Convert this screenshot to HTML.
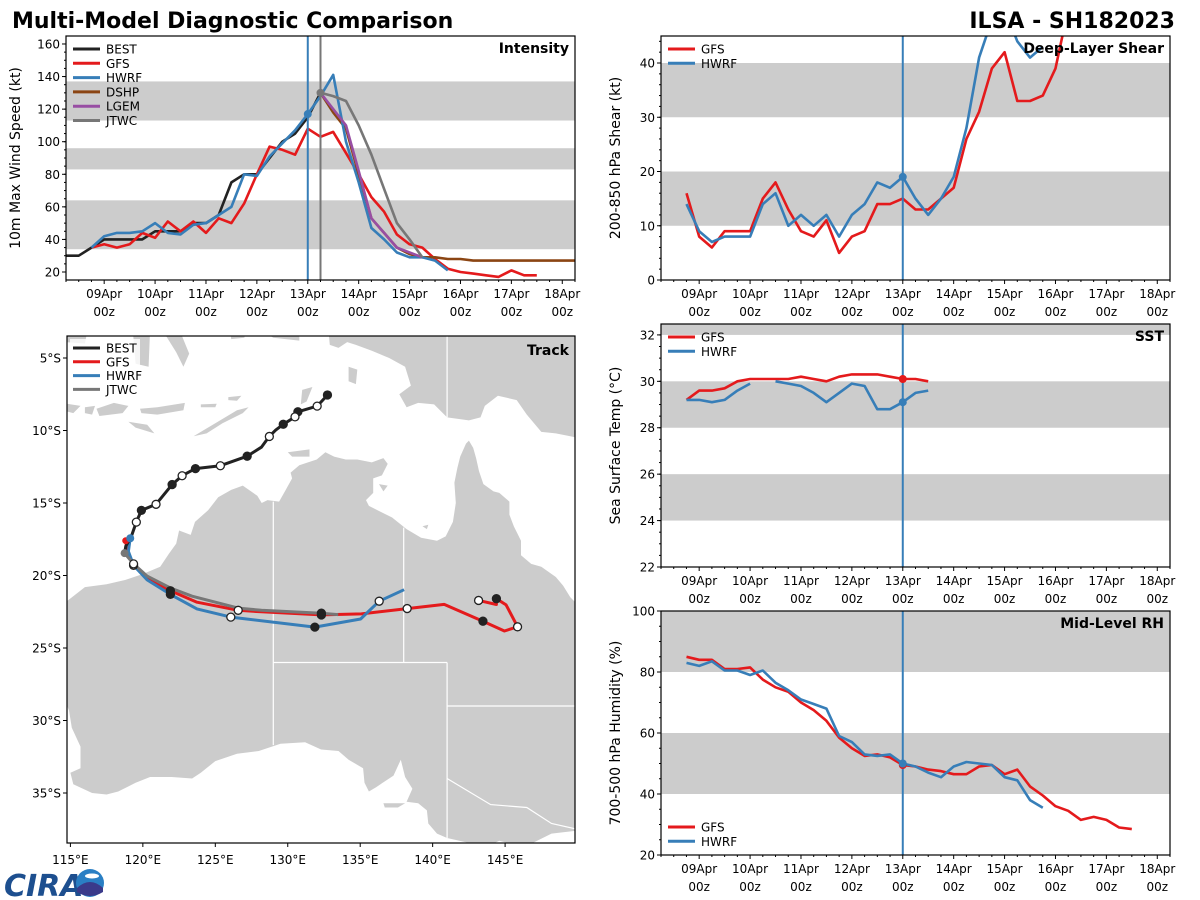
<!DOCTYPE html>
<html><head><meta charset="utf-8"><title>Multi-Model Diagnostic Comparison</title>
<style>
html,body{margin:0;padding:0;background:#fff;}
svg{display:block;font-family:"DejaVu Sans","Liberation Sans",sans-serif;}
</style></head>
<body>
<svg id="root" width="1200" height="900" viewBox="0 0 1200 900" xmlns="http://www.w3.org/2000/svg">
<text x="12" y="28" font-size="22" font-weight="bold" fill="#000">Multi-Model Diagnostic Comparison</text>
<text x="1175" y="28" font-size="22" font-weight="bold" fill="#000" text-anchor="end">ILSA - SH182023</text>
<g>
<text x="4" y="896" font-size="30" font-weight="bold" font-style="italic" fill="#1d4f8f">CIRA</text>
<circle cx="90" cy="883" r="14" fill="#2a7fc4"/>
<path d="M77 888 Q90 876 103 888 L103 892 Q90 900 77 892Z" fill="#3a3a8a"/>
<ellipse cx="92" cy="876" rx="7" ry="2.5" fill="#fff"/>
</g>
</svg>
<script>
// ---------- DATA ----------
const dayTicks = [9,10,11,12,13,14,15,16,17,18];
const dayTickLabels = ["09Apr","10Apr","11Apr","12Apr","13Apr","14Apr","15Apr","16Apr","17Apr","18Apr"];
const bestStart = 8.25;
const bestWind = [30,30,35,40,40,40,40,45,45,45,50,50,55,75,80,80,90,100,105,115,130];
const gfsWindStart = 8.75;
const gfsWind = [35,37,35,37,44,41,51,45,51,44,53,50,62,80,97,95,92,108,103,106,93,80,66,57,43,37,35,28,22,20,19,18,17,21,18,18];
const hwrfWindStart = 8.75;
const hwrfWind = [35,42,44,44,45,50,44,43,49,50,55,60,80,79,91,99,107,117,128,141,100,75,47,40,32,29,29,27,21];
const dshpStart = 13.25;
const dshpWind = [130,118,108,80,53,44,35,31,29,29,28,28,27,27,27,27,27,27,27,27,27];
const lgemStart = 13.25;
const lgemWind = [130,120,110,82,53,44,35,32,29];
const jtwcStart = 13.25;
const jtwcWind = [130,128,125,110,92,71,50,40,29];
const shearStart = 8.75;
const gfsShear = [16,8,6,9,9,9,15,18,13,9,8,11,5,8,9,14,14,15,13,13,15,17,26,31,39,42,33,33,34,39,50,56];
const hwrfShear = [14,9,7,8,8,8,14,16,10,12,10,12,8,12,14,18,17,19,15,12,15,19,28,41,48,50,44,41,43];
const sstStart = 8.75;
const gfsSst = [29.2,29.6,29.6,29.7,30.0,30.1,30.1,30.1,30.1,30.2,30.1,30.0,30.2,30.3,30.3,30.3,30.2,30.1,30.1,30.0];
const hwrfSst = [29.2,29.2,29.1,29.2,29.6,29.9,null,30.0,29.9,29.8,29.5,29.1,29.5,29.9,29.8,28.8,28.8,29.1,29.5,29.6];
const rhStart = 8.75;
const gfsRh = [85,84,84,81,81,81.5,77.5,75,73.5,70,67.5,64,58.5,55,52.5,53,52,49.5,49,48,47.5,46.5,46.5,49,49.5,46.5,48,42.5,39.5,36,34.5,31.5,32.5,31.5,29,28.5];
const hwrfRh = [83,82,83.5,80.5,80.5,79,80.5,76.5,74,71,69.5,68,59,57,53,52.5,53,50,49,47,45.5,49,50.5,50,49.5,45.5,44.5,38,35.5];
const bestTrack = [[132.74,-7.55],[132.03,-8.32],[130.7,-8.71],[130.5,-9.06],[129.69,-9.57],[129.17,-9.97],[128.73,-10.41],[128.18,-11.15],[127.2,-11.77],[125.35,-12.43],[123.63,-12.63],[122.71,-13.12],[122.02,-13.73],[120.91,-15.09],[119.9,-15.51],[119.55,-16.32],[119.19,-17.35],[118.82,-17.97],[118.74,-18.46]];
const bestMarks = [[132.74,-7.55,1],[132.03,-8.32,0],[130.7,-8.71,1],[130.5,-9.06,0],[129.69,-9.57,1],[128.73,-10.41,0],[127.2,-11.77,1],[125.35,-12.43,0],[123.63,-12.63,1],[122.71,-13.12,0],[122.02,-13.73,1],[120.91,-15.09,0],[119.9,-15.51,1],[119.55,-16.32,0]];
const gfsTrack = [[118.82,-17.6],[118.9,-18.4],[119.36,-19.2],[120.29,-20.19],[121.9,-21.05],[123.74,-21.84],[126.58,-22.4],[128.18,-22.5],[132.32,-22.72],[135.08,-22.65],[138.24,-22.28],[140.8,-21.99],[143.47,-23.15],[144.95,-23.83],[145.86,-23.54],[145.07,-22.03],[144.4,-21.6],[144.4,-22.0],[143.17,-21.72]];
const gfsMarks = [[121.9,-21.05,1],[126.58,-22.4,0],[132.32,-22.72,1],[138.24,-22.28,0],[143.47,-23.15,1],[145.86,-23.54,0],[144.4,-21.6,1],[143.17,-21.72,0]];
const hwrfTrack = [[119.13,-17.43],[119.0,-18.34],[119.36,-19.3],[120.29,-20.3],[121.9,-21.3],[123.74,-22.3],[126.07,-22.87],[131.87,-23.56],[135.03,-23.0],[136.31,-21.77],[138.03,-20.98]];
const hwrfMarks = [[119.36,-19.3,0],[121.9,-21.3,1],[126.07,-22.87,0],[131.87,-23.56,1],[136.31,-21.77,0]];
const jtwcTrack = [[118.74,-18.46],[119.36,-19.2],[120.29,-20.04],[121.9,-20.86],[123.4,-21.43],[126.58,-22.25],[128.18,-22.4],[132.32,-22.6],[133.48,-22.7]];
const jtwcMarks = [[119.36,-19.2,0],[132.32,-22.6,1]];
const australia = [[113.5,-21.8],[114.2,-21.8],[114.6,-21.9],[116,-20.8],[117.5,-20.6],[118.8,-20.3],[120,-19.9],[121.2,-19.4],[121.8,-18.5],[122.3,-17.8],[122.5,-16.9],[123.3,-17.2],[123.6,-16.3],[124.5,-15.5],[125.2,-14.6],[126.1,-14.1],[126.9,-13.8],[127.9,-14.5],[128.2,-15.0],[128.6,-14.8],[129.4,-14.9],[129.8,-14.2],[130.3,-13.3],[130.2,-12.9],[130.8,-12.4],[131.4,-12.2],[132.0,-12.0],[132.6,-11.5],[133.2,-11.8],[134.0,-12.0],[134.8,-12.0],[135.8,-12.2],[136.6,-11.9],[136.9,-12.3],[136.5,-13.1],[135.9,-13.3],[135.9,-14.3],[135.4,-14.8],[135.6,-15.2],[136.4,-15.6],[137.2,-16.0],[138.2,-16.8],[139.2,-17.4],[140.3,-17.6],[140.9,-17.3],[141.4,-16.3],[141.6,-15.0],[141.5,-13.6],[141.7,-12.6],[141.9,-11.8],[142.3,-10.9],[142.5,-10.7],[142.8,-11.2],[143.0,-11.9],[143.2,-12.8],[143.5,-13.7],[144.2,-14.2],[144.6,-14.3],[145.3,-14.9],[145.3,-15.8],[145.6,-16.6],[146.1,-17.6],[146.1,-18.6],[146.8,-19.2],[147.5,-19.4],[148.5,-20.1],[149.0,-20.7],[149.5,-21.5],[150.3,-22.3],[151.0,-23.5],[152.5,-24.8],[153.2,-26],[153.6,-28.2],[153.3,-31],[152.6,-32.5],[151.3,-33.9],[150.5,-35.3],[150,-37],[149.9,-37.6],[148.2,-37.8],[147,-38.4],[146.3,-39.0],[145.4,-38.5],[144.6,-38.3],[143.5,-38.8],[142.3,-38.4],[141.0,-38.1],[140.3,-37.8],[139.7,-37.1],[139.6,-36.2],[139.0,-35.7],[138.2,-35.6],[138.6,-34.7],[138.1,-33.9],[137.8,-32.7],[137.3,-33.8],[136.1,-34.6],[135.6,-34.9],[135.3,-34.3],[135.2,-33.3],[134.2,-32.7],[133.5,-32.1],[132.3,-32.0],[131.2,-31.5],[129.5,-31.6],[128.0,-32.1],[126.5,-32.3],[125.0,-32.8],[124.0,-33.6],[123.4,-34.0],[122.0,-33.9],[120.5,-33.9],[119.5,-34.3],[118.3,-34.9],[117.5,-35.1],[116.5,-35.0],[115.2,-34.4],[115.0,-33.6],[115.7,-33.3],[115.7,-31.8],[115.1,-30.5],[114.9,-29.3],[114.6,-28.6],[114.1,-27.0],[113.5,-26.0]];
const newGuinea = [[132.8,-3.0],[150.5,-3.0],[150.5,-10.6],[149.5,-10.4],[148.5,-10.2],[147.5,-10.1],[146.5,-8.9],[145.8,-7.9],[144.5,-7.6],[143.6,-8.3],[143.3,-9.1],[142.5,-9.3],[141.0,-9.1],[140.1,-8.2],[139.0,-8.1],[138.2,-8.4],[137.7,-7.5],[138.5,-6.9],[138.1,-5.6],[137.0,-5.0],[135.8,-4.5],[134.7,-4.1],[134.1,-3.9],[133.5,-4.3],[132.9,-4.1]];
const islands = [
 [[124.0,-10.1],[125.0,-9.5],[126.5,-8.6],[127.3,-8.4],[126.9,-8.8],[125.5,-9.5],[124.4,-10.2],[123.5,-10.4]],
 [[119.8,-8.5],[121,-8.4],[122.9,-8.1],[122.8,-8.6],[121,-8.9],[119.9,-8.8]],
 [[119.0,-9.4],[120.3,-9.6],[120.8,-10.2],[119.5,-9.8]],
 [[116.8,-8.5],[118.0,-8.1],[119.0,-8.3],[118.6,-8.8],[117.0,-9.0]],
 [[116.0,-8.4],[116.7,-8.3],[116.5,-8.9],[116.0,-8.8]],
 [[114.4,-8.1],[115.7,-8.3],[115.2,-8.8],[114.4,-8.6]],
 [[125.9,-7.7],[126.8,-7.6],[126.5,-7.95],[125.9,-7.9]],
 [[124.0,-8.2],[125.1,-8.15],[125.0,-8.4],[124.0,-8.4]],
 [[131.0,-7.2],[131.7,-7.0],[131.3,-8.0],[130.9,-8.2]],
 [[134.2,-5.6],[134.8,-5.8],[134.7,-6.8],[134.2,-6.6]],
 [[128.0,-3.0],[130.8,-3.0],[130.8,-3.8],[129,-3.6]],
 [[126.0,-3.0],[127.2,-3.0],[127.0,-3.6],[126.1,-3.7]],
 [[119.3,-3.0],[120.5,-3.0],[120.4,-5.6],[119.5,-5.4]],
 [[121.3,-3.0],[122.5,-3.0],[123.2,-4.7],[122.8,-5.6],[122.3,-4.6]],
 [[114.6,-3.0],[116.2,-3.0],[116.0,-4.0],[114.6,-3.9]],
 [[130.0,-11.5],[131.5,-11.3],[131.5,-11.8],[130.3,-11.8]],
 [[136.3,-13.7],[136.9,-13.8],[136.6,-14.2]],
 [[139.3,-16.6],[139.7,-16.5],[139.6,-16.8]],
 [[136.6,-35.7],[138.1,-35.7],[137.6,-36.0],[136.7,-36.0]]
];
const borders = [
 [[129,-14.9],[129,-31.7]],
 [[129,-26],[141,-26]],
 [[138,-16.7],[138,-26]],
 [[141,-26],[141,-38.1]],
 [[141,-29],[153.5,-29]],
 [[141,-34],[144,-35.8],[146.5,-36],[148.2,-37.1],[150,-37.5]],
 [[141,-3.0],[141,-9.1]]
];
const latTicks = [5,10,15,20,25,30,35];
const lonTicks = [115,120,125,130,135,140,145];

// ---------- HELPERS ----------
const NS = "http://www.w3.org/2000/svg";
const root = document.getElementById("root");
function mk(tag, attrs, parent){
  const e = document.createElementNS(NS, tag);
  for (const k in attrs) e.setAttribute(k, attrs[k]);
  (parent || root).appendChild(e);
  return e;
}
const C = {best:"#222222", gfs:"#e41a1c", hwrf:"#377eb8", dshp:"#8b4513", lgem:"#984ea3", jtwc:"#777777", band:"#cccccc"};

function makePanel(name, x0, x1, y0, y1, ymin, ymax){
  const g = mk("g", {});
  
  
  const cp = mk("clipPath", {id: name + "-clip"}, g);
  const cr = mk("rect", {x:x0, y:y0, width:x1-x0, height:y1-y0}, cp);
  
  
  const plot = mk("g", {"clip-path": "url(#" + name + "-clip)"}, g);
  
  
  return {g, plot, x0, x1, y0, y1, ymin, ymax,
    tx: t => x0 + (t - 8.25) / 10 * (x1 - x0),
    vy: v => y1 - (v - ymin) / (ymax - ymin) * (y1 - y0)};
}
function bands(P, list, name){
  list.forEach((b, i) => {
    const yA = P.vy(Math.min(b[1], P.ymax)), yB = P.vy(b[0]);
    const r = mk("rect", {x:P.x0, y:yA, width:P.x1-P.x0, height:yB-yA, fill:C.band}, P.plot);
    
    
  });
}
function series(P, start, vals, color, name, w){
  let d = "", pen = false;
  vals.forEach((v, i) => {
    if (v === null) { pen = false; return; }
    const x = P.tx(start + i * 0.25), y = P.vy(v);
    d += (pen ? "L" : "M") + x.toFixed(1) + " " + y.toFixed(1) + " ";
    pen = true;
  });
  const p = mk("path", {d, fill:"none", stroke:color, "stroke-width":w||2.6, "stroke-linejoin":"round"}, P.plot);
  
  
  return p;
}
function dot(P, t, v, color, name){
  const c = mk("circle", {cx:P.tx(t), cy:P.vy(v), r:4, fill:color}, P.plot);
  
  
}
function vline(P, t, color, name){
  const l = mk("line", {x1:P.tx(t), x2:P.tx(t), y1:P.y0, y2:P.y1, stroke:color, "stroke-width":2}, P.plot);
  
  
}
function frameAxes(P, name, yTicks, yMinorStep, yLabel, yLabelX, titleText){
  const f = mk("rect", {x:P.x0, y:P.y0, width:P.x1-P.x0, height:P.y1-P.y0, fill:"none", stroke:"#000", "stroke-width":1.2}, P.g);
  
  
  for (let k = 0; k <= 40; k++) {
    const t = 8.25 + k * 0.25;
    const x = P.tx(t);
    const major = Math.abs(t - Math.round(t)) < 1e-6 && t >= 9;
    const tk = mk("line", {x1:x, x2:x, y1:P.y1, y2:P.y1 + (major ? 4 : 2), stroke:"#000", "stroke-width":1}, P.g);
    
    
  }
  dayTicks.forEach((d, i) => {
    const x = P.tx(d);
    const t1 = mk("text", {x, y:P.y1 + 18, "font-size":12, "text-anchor":"middle", fill:"#000"}, P.g);
    t1.textContent = dayTickLabels[i];
    
    
    const t2 = mk("text", {x, y:P.y1 + 36, "font-size":12, "text-anchor":"middle", fill:"#000"}, P.g);
    t2.textContent = "00z";
    
    
  });
  for (let v = Math.ceil(P.ymin / yMinorStep) * yMinorStep; v <= P.ymax + 1e-6; v += yMinorStep) {
    const y = P.vy(v);
    const tk = mk("line", {x1:P.x0 - 2, x2:P.x0, y1:y, y2:y, stroke:"#000", "stroke-width":1}, P.g);
    
    
  }
  yTicks.forEach(v => {
    const y = P.vy(v);
    const tk = mk("line", {x1:P.x0 - 4, x2:P.x0, y1:y, y2:y, stroke:"#000", "stroke-width":1}, P.g);
    
    
    const tl = mk("text", {x:P.x0 - 6, y:y + 4.5, "font-size":12, "text-anchor":"end", fill:"#000"}, P.g);
    tl.textContent = String(v);
    
    
  });
  const cy = (P.y0 + P.y1) / 2;
  const yl = mk("text", {x:yLabelX, y:cy, "font-size":14, "text-anchor":"middle", fill:"#000", transform:"rotate(-90 " + yLabelX + " " + cy + ")"}, P.g);
  yl.textContent = yLabel;
  
  
  const tt = mk("text", {x:P.x1 - 6, y:P.y0 + 17, "font-size":14, "font-weight":"bold", "text-anchor":"end", fill:"#000"}, P.g);
  tt.textContent = titleText;
  
  
}
function legend(g, x, y, entries, dy, name){
  const lg = mk("g", {}, g);
  
  
  entries.forEach((e, i) => {
    const yy = y + i * dy;
    const l = mk("line", {x1:x, x2:x + 27, y1:yy, y2:yy, stroke:e[1], "stroke-width":3}, lg);
    
    
    const t = mk("text", {x:x + 33, y:yy + 4.5, "font-size":12, fill:"#000"}, lg);
    t.textContent = e[0];
    
    
  });
}

// ---------- INTENSITY ----------
const PI = makePanel("intensity", 66, 575, 36, 280, 15.09, 164.9);
bands(PI, [[34,64],[83,96],[113,137]], "intensity");
series(PI, bestStart, bestWind, C.best, "best-intensity-line");
series(PI, gfsWindStart, gfsWind, C.gfs, "gfs-intensity-line");
series(PI, dshpStart, dshpWind, C.dshp, "dshp-intensity-line");
series(PI, hwrfWindStart, hwrfWind, C.hwrf, "hwrf-intensity-line");
series(PI, lgemStart, lgemWind, C.lgem, "lgem-intensity-line");
series(PI, jtwcStart, jtwcWind, C.jtwc, "jtwc-intensity-line");
vline(PI, 13.0, C.hwrf, "hwrf-init-time-line");
vline(PI, 13.25, C.jtwc, "jtwc-init-time-line");
dot(PI, 13.0, hwrfWind[17], C.hwrf, "hwrf-init-dot");
dot(PI, jtwcStart, jtwcWind[0], C.jtwc, "jtwc-init-dot");
frameAxes(PI, "intensity", [20,40,60,80,100,120,140,160], 5, "10m Max Wind Speed (kt)", 20, "Intensity");
legend(PI.g, 73, 49, [["BEST",C.best],["GFS",C.gfs],["HWRF",C.hwrf],["DSHP",C.dshp],["LGEM",C.lgem],["JTWC",C.jtwc]], 14.3, "intensity");

// ---------- SHEAR ----------
const PS = makePanel("shear", 661, 1170, 36, 280, 0, 44.98);
bands(PS, [[10,20],[30,40]], "shear");
series(PS, shearStart, gfsShear, C.gfs, "gfs-shear-line");
series(PS, shearStart, hwrfShear, C.hwrf, "hwrf-shear-line");
vline(PS, 13.0, C.hwrf, "shear-init-time-line");
dot(PS, 13.0, hwrfShear[17], C.hwrf, "hwrf-shear-init-dot");
frameAxes(PS, "shear", [0,10,20,30,40], 2, "200-850 hPa Shear (kt)", 620, "Deep-Layer Shear");
legend(PS.g, 668, 49, [["GFS",C.gfs],["HWRF",C.hwrf]], 14.3, "shear");

// ---------- SST ----------
const PT = makePanel("sst", 661, 1170, 324, 567, 22, 32.47);
bands(PT, [[24,26],[28,30],[32,33]], "sst");
series(PT, sstStart, gfsSst, C.gfs, "gfs-sst-line");
series(PT, sstStart, hwrfSst, C.hwrf, "hwrf-sst-line");
vline(PT, 13.0, C.hwrf, "sst-init-time-line");
dot(PT, 13.0, gfsSst[17], C.gfs, "gfs-sst-init-dot");
dot(PT, 13.0, hwrfSst[17], C.hwrf, "hwrf-sst-init-dot");
frameAxes(PT, "sst", [22,24,26,28,30,32], 0.5, "Sea Surface Temp (°C)", 620, "SST");
legend(PT.g, 668, 337, [["GFS",C.gfs],["HWRF",C.hwrf]], 14.3, "sst");

// ---------- RH ----------
const PR = makePanel("rh", 661, 1170, 611, 855, 20, 100);
bands(PR, [[40,60],[80,100]], "rh");
series(PR, rhStart, gfsRh, C.gfs, "gfs-rh-line");
series(PR, rhStart, hwrfRh, C.hwrf, "hwrf-rh-line");
vline(PR, 13.0, C.hwrf, "rh-init-time-line");
dot(PR, 13.0, gfsRh[17], C.gfs, "gfs-rh-init-dot");
dot(PR, 13.0, hwrfRh[17], C.hwrf, "hwrf-rh-init-dot");
frameAxes(PR, "rh", [20,40,60,80,100], 5, "700-500 hPa Humidity (%)", 620, "Mid-Level RH");
legend(PR.g, 668, 827, [["GFS",C.gfs],["HWRF",C.hwrf]], 14.3, "rh");

// ---------- TRACK MAP ----------
const MX0 = 67, MX1 = 575, MY0 = 336, MY1 = 843;
const lonX = lon => 70.4 + (lon - 115) * 14.49;
const latY = lat => 358 + (-lat - 5) * 14.5;
const gm = mk("g", {});


const mcp = mk("clipPath", {id:"map-clip"}, gm);
const mcr = mk("rect", {x:MX0, y:MY0, width:MX1-MX0, height:MY1-MY0}, mcp);


const mp = mk("g", {"clip-path":"url(#map-clip)"}, gm);


function poly(pts){ return pts.map(p => lonX(p[0]).toFixed(1) + "," + latY(p[1]).toFixed(1)).join(" "); }
const aus = mk("polygon", {points:poly(australia), fill:C.band}, mp);


const ng = mk("polygon", {points:poly(newGuinea), fill:C.band}, mp);


islands.forEach(isl => {
  const p = mk("polygon", {points:poly(isl), fill:C.band}, mp);
  
  
});
borders.forEach(b => {
  const p = mk("polyline", {points:poly(b), fill:"none", stroke:"#fff", "stroke-width":1.2}, mp);
  
  
});
function track(pts, color, name){
  const p = mk("polyline", {points:poly(pts), fill:"none", stroke:color, "stroke-width":3, "stroke-linejoin":"round"}, mp);
  
  
}
function marks(list, name){
  list.forEach(m => {
    const c = mk("circle", {cx:lonX(m[0]), cy:latY(m[1]), r:4, fill:m[2] ? "#222" : "#fff", stroke:"#222", "stroke-width":1.3}, mp);
    
    
  });
}
track(gfsTrack, C.gfs, "gfs-track");
track(hwrfTrack, C.hwrf, "hwrf-track");
track(jtwcTrack, C.jtwc, "jtwc-track");
track(bestTrack, C.best, "best-track");
marks(gfsMarks, "gfs-track-marker");
marks(hwrfMarks, "hwrf-track-marker");
marks(jtwcMarks, "jtwc-track-marker");
marks(bestMarks, "best-track-marker");
const sd1 = mk("circle", {cx:lonX(gfsTrack[0][0]), cy:latY(gfsTrack[0][1]), r:3.5, fill:C.gfs}, mp);


const sd2 = mk("circle", {cx:lonX(hwrfTrack[0][0]), cy:latY(hwrfTrack[0][1]), r:4, fill:C.hwrf}, mp);


const sd3 = mk("circle", {cx:lonX(jtwcTrack[0][0]), cy:latY(jtwcTrack[0][1]), r:4, fill:C.jtwc}, mp);


const mf = mk("rect", {x:MX0, y:MY0, width:MX1-MX0, height:MY1-MY0, fill:"none", stroke:"#000", "stroke-width":1.2}, gm);


latTicks.forEach(l => {
  const y = latY(-l);
  const tk = mk("line", {x1:MX0 - 4, x2:MX0, y1:y, y2:y, stroke:"#000", "stroke-width":1}, gm);
  
  
  const t = mk("text", {x:MX0 - 6, y:y + 4.5, "font-size":12, "text-anchor":"end", fill:"#000"}, gm);
  t.textContent = l + "°S";
  
  
});
lonTicks.forEach(l => {
  const x = lonX(l);
  const tk = mk("line", {x1:x, x2:x, y1:MY1, y2:MY1 + 4, stroke:"#000", "stroke-width":1}, gm);
  
  
  const t = mk("text", {x, y:MY1 + 21, "font-size":12, "text-anchor":"middle", fill:"#000"}, gm);
  t.textContent = l + "°E";
  
  
});
const trt = mk("text", {x:MX1 - 6, y:MY0 + 19, "font-size":14, "font-weight":"bold", "text-anchor":"end", fill:"#000"}, gm);
trt.textContent = "Track";


const lgBg = mk("rect", {x:70, y:339, width:70, height:58, fill:"#fff", opacity:0.8}, gm);


legend(gm, 73, 348, [["BEST",C.best],["GFS",C.gfs],["HWRF",C.hwrf],["JTWC",C.jtwc]], 13.8, "track");
</script>
</body></html>
